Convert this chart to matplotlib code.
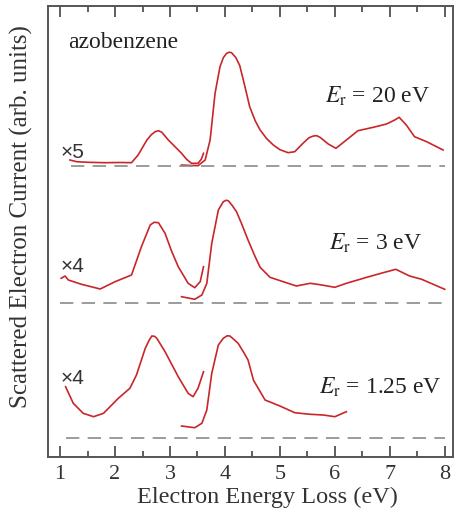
import numpy as np
import matplotlib.pyplot as plt
from matplotlib.ticker import MultipleLocator

plt.rcParams['font.family'] = ['Liberation Serif', 'DejaVu Serif']
plt.rcParams['mathtext.fontset'] = 'stix'

# heights above each trace's own baseline (arb. units)
# E_r = 20 eV
x20_lo = [1.18, 1.3, 1.51, 1.8, 2.1, 2.30, 2.42, 2.58, 2.66, 2.73, 2.79, 2.85, 2.97, 3.1, 3.21,
          3.3, 3.39, 3.51, 3.57, 3.61]
y20_lo = [5.7, 4.0, 3.4, 3.0, 3.2, 3.0, 10.7, 25.7, 31, 34, 35, 33.5, 25.7, 18.5, 12.4,
          6.5, 2.4, 2.4, 6.5, 12.4]
x20_hi = [3.21, 3.35, 3.51, 3.64, 3.73, 3.82, 3.91, 3.97, 4.03, 4.08, 4.12, 4.2, 4.27, 4.36,
          4.45, 4.55, 4.64, 4.76, 4.88, 5.0, 5.15, 5.27, 5.42, 5.53, 5.61, 5.67, 5.73, 5.88,
          6.02, 6.21, 6.42, 6.70, 6.94, 7.09, 7.17, 7.30, 7.45, 7.67, 7.97]
y20_hi = [0.7, 0.3, 0, 5.7, 25.7, 72.4, 99, 108, 112.4, 113.5, 113, 108, 100, 80, 59, 45, 35.7,
          27, 20.7, 16, 13, 14, 22.4, 28, 29.7, 30, 28.4, 21.7, 17.4, 25.7, 35, 38.4, 41.7,
          45.7, 48.4, 40.7, 29, 24, 15.7]

# E_r = 3 eV
x3_lo = [1.02, 1.09, 1.15, 1.39, 1.73, 2.0, 2.30, 2.48, 2.64, 2.71, 2.79, 2.91, 3.03, 3.15,
         3.33, 3.45, 3.55, 3.61]
y3_lo = [25, 27.3, 23.3, 19, 14.3, 21.6, 28.3, 56.6, 78.3, 81, 80.6, 70, 52, 36.6, 20, 15.6,
         21.6, 36.6]
x3_hi = [3.21, 3.45, 3.58, 3.67, 3.76, 3.88, 3.97, 4.02, 4.06, 4.13, 4.21, 4.3, 4.42, 4.55,
         4.64, 4.82, 5.06, 5.30, 5.55, 5.73, 6.0, 6.21, 6.58, 6.88, 7.11, 7.36, 7.58, 8.0]
y3_hi = [6.6, 4, 8.3, 20, 60, 93.3, 101.6, 103, 102.6, 98, 91.6, 80, 63.3, 46.6, 36, 26,
         21.6, 17.3, 20, 18.6, 16, 20, 26, 30.6, 34, 27.3, 24, 14]

# E_r = 1.25 eV
x125_lo = [1.10, 1.24, 1.42, 1.61, 1.79, 2.06, 2.27, 2.39, 2.55, 2.62, 2.67, 2.72, 2.76, 2.91,
           3.15, 3.33, 3.42, 3.51, 3.61]
y125_lo = [51.6, 35, 25, 21.6, 25, 40, 50, 63.3, 90, 98, 102.3, 102, 100, 86.6, 61.6, 45,
           41.6, 50, 66.6]
x125_hi = [3.21, 3.45, 3.58, 3.67, 3.76, 3.88, 3.97, 4.04, 4.09, 4.16, 4.24, 4.34, 4.42, 4.52,
           4.73, 5.0, 5.27, 5.55, 5.79, 6.0, 6.21]
y125_hi = [12.3, 10.6, 15, 28.3, 65, 93.3, 100, 102.5, 102.3, 99, 95, 86, 78.3, 58, 38.3,
           32.3, 25.6, 24, 23.3, 21.6, 26.6]

labels = ['20', '3', '1.25']
factors = ['×5', '×4', '×4']

traces = [(x20_lo, y20_lo, x20_hi, y20_hi),
          (x3_lo, y3_lo, x3_hi, y3_hi),
          (x125_lo, y125_lo, x125_hi, y125_hi)]
offsets = [291.3, 153.7, 18.7]
base_start = [1.2, 1.0, 1.1]
fac_pos = [(1.0, 304), (1.0, 190), (1.0, 79)]
lab_pos = [(7.73, 354), (7.59, 207), (7.94, 63)]

red = '#c9262a'
fig = plt.figure(figsize=(4.54, 5.11), dpi=100)
ax = fig.add_axes([48 / 454, 54 / 511, 405 / 454, 451 / 511])

for (xl, yl, xh, yh), off, xs in zip(traces, offsets, base_start):
    ax.plot(xl, np.array(yl) + off, color=red, lw=1.2)
    ax.plot(xh, np.array(yh) + off, color=red, lw=1.2)
    ax.plot([xs, 8.0], [off, off], color='#8a8a8a', lw=1.2, dashes=(8, 5))

for fac, (fx, fy) in zip(factors, fac_pos):
    ax.text(fx, fy, fac, fontsize=15, family=['Liberation Sans', 'DejaVu Sans'],
            color='#333333', va='center', ha='left')

for lab, (lx, ly) in zip(labels, lab_pos):
    ax.text(lx, ly, r'$E_{\mathrm{r}}$ = ' + lab + ' eV', fontsize=17, color='#222222',
            ha='right', va='baseline')

ax.text(1.15, 409, 'azobenzene', fontsize=17, color='#222222', ha='left', va='baseline')

ax.set_xlim(0.78, 8.15)
ax.set_ylim(0, 451)
ax.xaxis.set_major_locator(MultipleLocator(1))
ax.xaxis.set_minor_locator(MultipleLocator(0.5))
ax.tick_params(axis='x', which='both', direction='in', top=True, bottom=True,
               labelsize=16, colors='#333333', pad=6)
ax.tick_params(axis='x', which='major', length=8, width=1.1)
ax.tick_params(axis='x', which='minor', length=4, width=1.1)
ax.set_yticks([])
for s in ax.spines.values():
    s.set_color('#555555')
    s.set_linewidth(1.4)

ax.set_xlabel('Electron Energy Loss (eV)', fontsize=17.5, color='#333333')
ax.set_ylabel('Scattered Electron Current (arb. units)', fontsize=18, color='#333333')
ax.xaxis.set_label_coords(0.542, -0.066)
ax.yaxis.set_label_coords(-0.036, 0.534)

fig.savefig('out.png', dpi=100)
